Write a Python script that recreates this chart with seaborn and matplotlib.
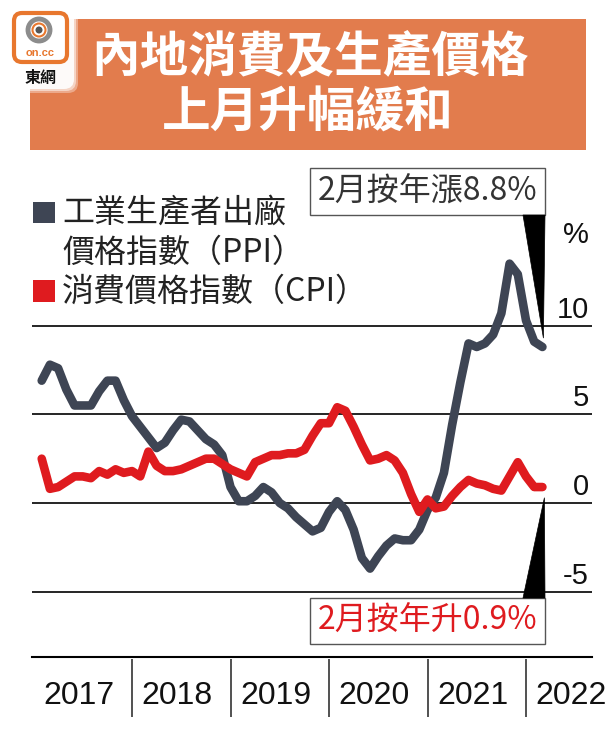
import numpy as np
import pandas as pd
import seaborn as sns
import matplotlib.pyplot as plt
from matplotlib.patches import Rectangle, FancyBboxPatch, Polygon, Circle
from matplotlib.transforms import blended_transform_factory

# monthly YoY %, Jan 2017 - Feb 2022
ppi = [6.9, 7.8, 7.6, 6.4, 5.5, 5.5, 5.5, 6.3, 6.9, 6.9, 5.8, 4.9,
       4.3, 3.7, 3.1, 3.4, 4.1, 4.7, 4.6, 4.1, 3.6, 3.3, 2.7, 0.9,
       0.1, 0.1, 0.4, 0.9, 0.6, 0.0, -0.3, -0.8, -1.2, -1.6, -1.4, -0.5,
       0.1, -0.4, -1.5, -3.1, -3.7, -3.0, -2.4, -2.0, -2.1, -2.1, -1.5, -0.4,
       0.3, 1.7, 4.4, 6.8, 9.0, 8.8, 9.0, 9.5, 10.7, 13.5, 12.9, 10.3,
       9.1, 8.8]
cpi = [2.5, 0.8, 0.9, 1.2, 1.5, 1.5, 1.4, 1.8, 1.6, 1.9, 1.7, 1.8,
       1.5, 2.9, 2.1, 1.8, 1.8, 1.9, 2.1, 2.3, 2.5, 2.5, 2.2, 1.9,
       1.7, 1.5, 2.3, 2.5, 2.7, 2.7, 2.8, 2.8, 3.0, 3.8, 4.5, 4.5,
       5.4, 5.2, 4.3, 3.3, 2.4, 2.5, 2.7, 2.4, 1.7, 0.5, -0.5, 0.2,
       -0.3, -0.2, 0.4, 0.9, 1.3, 1.1, 1.0, 0.8, 0.7, 1.5, 2.3, 1.5,
       0.9, 0.9]
start_year = 2017
years = [2017, 2018, 2019, 2020, 2021, 2022]
y_ticks = [-5, 0, 5, 10]

title_lines = ["內地消費及生產價格", "上月升幅緩和"]
ppi_label = ["工業生產者出廠", "價格指數（PPI）"]
cpi_label = "消費價格指數（CPI）"
ppi_note = "2月按年漲8.8%"
cpi_note = "2月按年升0.9%"

ppi_color = "#3E4554"
cpi_color = "#DF1B1F"
orange = "#E27C4D"

# month-end positions in decimal years
months = np.arange(len(ppi))
x = start_year + (months + 1) / 12
df = pd.DataFrame({"x": x, "ppi": ppi, "cpi": cpi})

sns.set_style("white")
cjk = ["Noto Sans CJK TC", "DejaVu Sans"]
plt.rcParams["font.family"] = cjk

W, H = 609, 732
fig = plt.figure(figsize=(W / 100, H / 100), dpi=100)

# chart axes, placed in pixels
ax = fig.add_axes([32 / W, (H - 657) / H, 560 / W, 497 / H])
ax.patch.set_alpha(0)
px_year = 98.5
px_unit = 17.73
ax.set_xlim(start_year - 1.5 / px_year, start_year + (592 - 33.5) / px_year)
ax.set_ylim(-(657 - 503) / px_unit, (503 - 160) / px_unit)

for v in y_ticks:
    ax.axhline(v, color="black", lw=1.2, zorder=1)

sns.lineplot(data=df, x="x", y="ppi", ax=ax, color=ppi_color, lw=6.2,
             estimator=None, solid_capstyle="round", solid_joinstyle="round", zorder=3)
sns.lineplot(data=df, x="x", y="cpi", ax=ax, color=cpi_color, lw=6.2,
             estimator=None, solid_capstyle="round", solid_joinstyle="round", zorder=4)

for s in ["top", "left", "right"]:
    ax.spines[s].set_visible(False)
ax.spines["bottom"].set_color("black")
ax.spines["bottom"].set_linewidth(1.5)
ax.set_xlabel("")
ax.set_ylabel("")
ax.set_yticks([])
ax.set_xticks([y + 0.46 for y in years])
ax.set_xticklabels([str(y) for y in years],
                   fontfamily=["Liberation Sans Narrow", "Liberation Sans"], fontsize=23)
ax.tick_params(axis="x", length=0, pad=17, colors="#111111")

# year dividers below the axis
tr = blended_transform_factory(ax.transData, ax.transAxes)
ax.vlines(years[1:], -0.121, -0.004, transform=tr, color="#333333", lw=1.2, clip_on=False)

# right side value labels
tr_r = blended_transform_factory(ax.transAxes, ax.transData)
for v in y_ticks:
    ax.text(0.9946, v + 0.45, str(v), transform=tr_r, ha="right", va="baseline",
            fontsize=21, fontfamily="Liberation Sans", color="#111111")
ax.text(0.9946, 14.66, "%", transform=tr_r, ha="right", va="baseline",
        fontsize=21, fontfamily="Liberation Sans", color="#111111")

# callouts
end_x = x[-1]
box_l = start_year + (310 - 33.5) / px_year
box_r = start_year + (545 - 33.5) / px_year
tri_l = start_year + (523 - 33.5) / px_year

ppi_top, ppi_bot = (503 - 168) / px_unit, (503 - 215) / px_unit
ax.add_patch(Rectangle((box_l, ppi_bot), box_r - box_l, ppi_top - ppi_bot,
                       facecolor="white", edgecolor="#555555", lw=1.0, zorder=5))
ax.text((box_l + box_r) / 2, (ppi_top + ppi_bot) / 2, ppi_note, ha="center", va="center",
        fontsize=23, color="#333333", zorder=6)
ax.add_patch(Polygon([(tri_l, ppi_bot), (box_r, ppi_bot), (end_x + 0.01, ppi[-1] + 0.5)],
                     closed=True, facecolor="black", edgecolor="black", lw=0.5, zorder=5))

cpi_top, cpi_bot = (503 - 598) / px_unit, (503 - 644) / px_unit
ax.add_patch(Rectangle((box_l, cpi_bot), box_r - box_l, cpi_top - cpi_bot,
                       facecolor="white", edgecolor="#555555", lw=1.0, zorder=5))
ax.text((box_l + box_r) / 2, (cpi_top + cpi_bot) / 2, cpi_note, ha="center", va="center",
        fontsize=23, color=cpi_color, zorder=6)
ax.add_patch(Polygon([(tri_l, cpi_top), (box_r, cpi_top), (end_x + 0.02, cpi[-1] - 0.6)],
                     closed=True, facecolor="black", edgecolor="black", lw=0.5, zorder=5))

# overlay canvas in pixel coordinates for header, logo and legend
cv = fig.add_axes([0, 0, 1, 1], zorder=10)
cv.set_xlim(0, W)
cv.set_ylim(H, 0)
cv.axis("off")
cv.patch.set_alpha(0)

cv.add_patch(Rectangle((30, 19), 556, 131, facecolor=orange, edgecolor="none"))
cv.text(310, 57, title_lines[0], ha="center", va="center", fontsize=35,
        fontweight="bold", color="white")
cv.text(308, 113, title_lines[1], ha="center", va="center", fontsize=35,
        fontweight="bold", color="white")

# logo
for i, a in enumerate([0.35, 0.5, 0.9]):
    cv.add_patch(FancyBboxPatch((6 + i * 2, 5 + i * 2), 72 - i * 4, 88 - i * 4,
                                boxstyle="round,pad=0,rounding_size=10",
                                facecolor="white", edgecolor="none", alpha=a))
cv.add_patch(FancyBboxPatch((14, 13), 53, 49, boxstyle="round,pad=0,rounding_size=8",
                            facecolor="white", edgecolor="#E8772E", lw=3))
cv.add_patch(Circle((39, 30), 11, facecolor="none", edgecolor="#8C8C8C", lw=3.5))
cv.add_patch(Circle((39, 30), 6.5, facecolor="none", edgecolor="#E8772E", lw=1.5))
cv.add_patch(Circle((39, 30), 3.5, facecolor="#555555", edgecolor="none"))
cv.text(40, 53, "on.cc", ha="center", va="center", fontsize=8, fontweight="bold",
        color="#E8772E", fontfamily="Liberation Sans")
cv.text(41, 78, "東網", ha="center", va="center", fontsize=11.5, fontweight="bold",
        color="#111111")

# legend
cv.add_patch(Rectangle((33, 202), 22, 21, facecolor=ppi_color, edgecolor="none"))
cv.add_patch(Rectangle((33, 280), 22, 22, facecolor=cpi_color, edgecolor="none"))
cv.text(62, 213, ppi_label[0], ha="left", va="center", fontsize=23, color="#222222")
cv.text(62, 253, ppi_label[1], ha="left", va="center", fontsize=23, color="#222222")
cv.text(62, 292, cpi_label, ha="left", va="center", fontsize=23, color="#222222")

fig.savefig("out.png", dpi=100)
